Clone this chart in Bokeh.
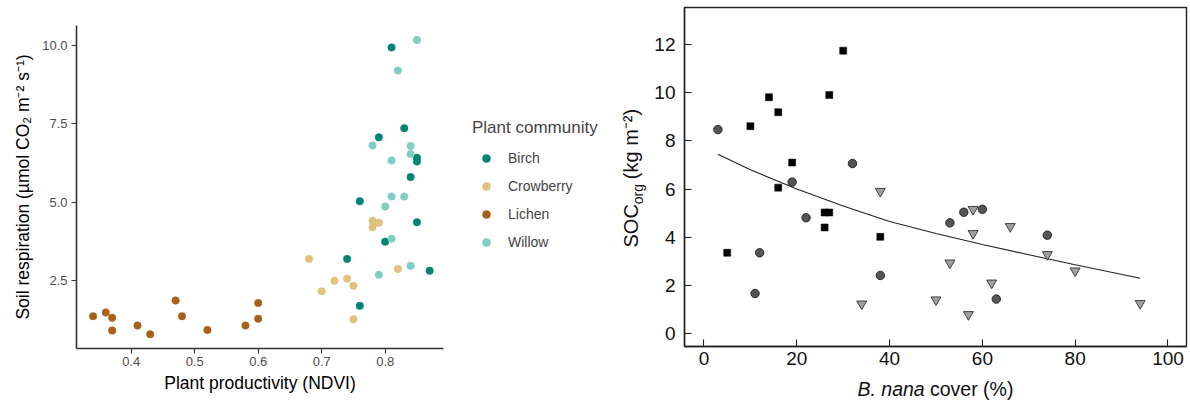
import math
from bokeh.plotting import figure
from bokeh.layouts import row, column
from bokeh.models import (Range1d, FixedTicker, NumeralTickFormatter, Legend, LegendItem)
from bokeh.core.properties import value
from bokeh.embed import file_html
from bokeh.resources import INLINE

# ---------------- data: left panel ----------------
communities = ["Birch", "Crowberry", "Lichen", "Willow"]
community_colors = ["#018571", "#DFC27D", "#A6611A", "#80CDC1"]

birch_ndvi = [0.81, 0.83, 0.79, 0.85, 0.85, 0.84, 0.76, 0.85, 0.80, 0.74, 0.87, 0.76]
birch_resp = [9.94, 7.36, 7.07, 6.42, 6.30, 5.80, 5.03, 4.36, 3.74, 3.19, 2.81, 1.69]
crow_ndvi = [0.78, 0.79, 0.78, 0.68, 0.82, 0.72, 0.74, 0.75, 0.70, 0.75]
crow_resp = [4.41, 4.34, 4.20, 3.19, 2.87, 2.49, 2.56, 2.33, 2.16, 1.26]
lichen_ndvi = [0.34, 0.36, 0.37, 0.37, 0.41, 0.43, 0.47, 0.48, 0.52, 0.58, 0.60, 0.60]
lichen_resp = [1.36, 1.48, 1.31, 0.90, 1.06, 0.78, 1.86, 1.36, 0.92, 1.06, 1.78, 1.28]
willow_ndvi = [0.85, 0.82, 0.78, 0.84, 0.84, 0.81, 0.81, 0.83, 0.80, 0.81, 0.84, 0.79]
willow_resp = [10.18, 9.20, 6.81, 6.79, 6.54, 6.33, 5.18, 5.18, 4.86, 3.83, 2.97, 2.68]

left_xticks = [0.4, 0.5, 0.6, 0.7, 0.8]
left_yticks = [2.5, 5.0, 7.5, 10.0]

# ---------------- data: right panel ----------------
circle_cover = [3, 19, 32, 22, 11, 12, 38, 53, 56, 60, 74, 63]
circle_soc = [8.47, 6.29, 7.06, 4.81, 1.67, 3.36, 2.42, 4.60, 5.04, 5.16, 4.09, 1.44]
square_cover = [10, 14, 16, 27, 30, 19, 16, 5, 26, 27, 26, 38]
square_soc = [8.61, 9.81, 9.19, 9.90, 11.74, 7.10, 6.06, 3.36, 5.03, 5.03, 4.41, 4.02]
tri_cover = [38, 34, 58, 58, 66, 53, 62, 50, 57, 74, 80, 94]
tri_soc = [5.91, 1.24, 5.16, 4.16, 4.45, 2.94, 2.11, 1.41, 0.80, 3.29, 2.61, 1.26]
fit_cover = [3, 10, 20, 30, 40, 50, 60, 70, 80, 94]
fit_soc = [7.44, 6.80, 6.00, 5.30, 4.66, 4.16, 3.70, 3.28, 2.86, 2.30]

right_xticks = [0, 20, 40, 60, 80, 100]
right_yticks = [0, 2, 4, 6, 8, 10, 12]

FONT = "Liberation Sans"
H = 400


def blank_fig(w, h, xr, yr, **kw):
    f = figure(width=w, height=h, output_backend="svg", toolbar_location=None,
               x_range=Range1d(*xr), y_range=Range1d(*yr),
               x_axis_type=None, y_axis_type=None, **kw)
    f.outline_line_color = None
    f.xgrid.visible = False
    f.ygrid.visible = False
    return f


# ================= left figure =================
p1 = figure(width=458, height=H, output_backend="svg", toolbar_location=None,
            x_range=Range1d(0.3139, 0.8918), y_range=Range1d(0.329, 10.64),
            min_border_left=76, min_border_right=15, min_border_top=25, min_border_bottom=52)
p1.outline_line_color = None
p1.xgrid.visible = False
p1.ygrid.visible = False

for col, xs, ys in [(community_colors[0], birch_ndvi, birch_resp),
                    (community_colors[1], crow_ndvi, crow_resp),
                    (community_colors[2], lichen_ndvi, lichen_resp),
                    (community_colors[3], willow_ndvi, willow_resp)]:
    p1.scatter(xs, ys, size=7.5, fill_color=col, line_color=col, line_width=0.5)

for ax in (p1.xaxis[0], p1.yaxis[0]):
    ax.axis_line_color = "#333333"
    ax.axis_line_width = 1.6
    ax.major_tick_line_color = "#333333"
    ax.major_tick_line_width = 1.1
    ax.major_tick_out = 5
    ax.major_tick_in = 0
    ax.minor_tick_line_color = None
    ax.major_label_text_font = FONT
    ax.major_label_text_font_size = "13px"
    ax.major_label_text_color = "#4d4d4d"
    ax.axis_label_text_font = FONT
    ax.axis_label_text_font_size = "17.5px"
    ax.axis_label_text_font_style = "normal"
    ax.axis_label_text_color = "black"

p1.xaxis.ticker = FixedTicker(ticks=left_xticks)
p1.yaxis.ticker = FixedTicker(ticks=left_yticks)
p1.yaxis.formatter = NumeralTickFormatter(format="0.0")
p1.xaxis.axis_label = "Plant productivity (NDVI)"
p1.yaxis.axis_label = "Soil respiration (µmol CO₂ m⁻² s⁻¹)"
p1.xaxis.major_label_standoff = 3
p1.yaxis.major_label_standoff = 4
p1.xaxis.axis_label_standoff = 4
p1.yaxis.axis_label_standoff = 6

# ================= legend panel =================
leg = blank_fig(142, H, (0, 1), (0, 1), min_border_left=14, min_border_top=118,
                min_border_right=0, min_border_bottom=0)
items = []
for name, col in zip(communities, community_colors):
    # a single key point kept outside the visible range: only the legend shows it
    r = leg.scatter(x=[-5], y=[-5], size=7.5, fill_color=col, line_color=col, line_width=0.5)
    items.append(LegendItem(label=name, renderers=[r]))
legend = Legend(items=items, location="top_left", title="Plant community",
                title_text_font=FONT, title_text_font_size="17px", title_text_font_style="normal",
                title_standoff=10,
                label_text_font=FONT, label_text_font_size="14px",
                glyph_width=28, glyph_height=20, label_height=20, label_standoff=8,
                spacing=8, padding=0, margin=0,
                border_line_color=None, background_fill_alpha=0)
leg.add_layout(legend, "center")

# ================= right y-label panel =================
ylab = blank_fig(50, H, (600, 650), (0, H), min_border=0)
ang = math.pi / 2
ylab_common = dict(angle=ang, text_align="center", text_baseline="middle",
                   text_font=value(FONT), text_color="#111111")
ylab.text(x=[630], y=[H - 225.3], text=["SOC"], text_font_size="20px", **ylab_common)
ylab.text(x=[637], y=[H - 193.6], text=["org"], text_font_size="14px", **ylab_common)
ylab.text(x=[630], y=[H - 143.5], text=["(kg m⁻²)"], text_font_size="20px", **ylab_common)

# ================= right figure =================
P2W, P2H = 538, 374
p2 = figure(width=P2W, height=P2H, output_backend="svg", toolbar_location=None,
            x_range=Range1d(-4.20, 103.99), y_range=Range1d(-0.527, 13.53),
            min_border_left=34, min_border_right=2, min_border_top=7, min_border_bottom=28)
p2.xgrid.visible = False
p2.ygrid.visible = False
p2.outline_line_color = "#222222"
p2.outline_line_width = 1.4

p2.line(fit_cover, fit_soc, line_color="#222222", line_width=1.1)
p2.scatter(circle_cover, circle_soc, marker="circle", size=8.5,
           fill_color="#555555", line_color="#111111", line_width=0.8)
p2.scatter(square_cover, square_soc, marker="square", size=7,
           fill_color="#000000", line_color="#000000", line_width=0.5)
p2.scatter(tri_cover, tri_soc, marker="inverted_triangle", size=10,
           fill_color="#a0a0a0", line_color="#333333", line_width=0.9)

for ax in (p2.xaxis[0], p2.yaxis[0]):
    ax.axis_line_color = "#222222"
    ax.axis_line_width = 1.4
    ax.major_tick_line_color = "#222222"
    ax.major_tick_line_width = 1.1
    ax.major_tick_in = 7
    ax.major_tick_out = 0
    ax.minor_tick_line_color = None
    ax.major_label_text_font = FONT
    ax.major_label_text_font_size = "19px"
    ax.major_label_text_color = "#111111"

p2.xaxis.ticker = FixedTicker(ticks=right_xticks)
p2.yaxis.ticker = FixedTicker(ticks=right_yticks)
p2.xaxis.major_label_standoff = 5
p2.yaxis.major_label_standoff = 9

# ================= right x-label panel =================
XLH = H - P2H
xlab = blank_fig(P2W, XLH, (684, 1186), (P2H, H), min_border_left=34, min_border_right=2,
                 min_border_top=0, min_border_bottom=0)
xlab_common = dict(text_align="center", text_baseline="middle",
                   text_font=value(FONT), text_font_size="19.5px", text_color="#111111")
xlab.text(x=[890.6], y=[H - (388 - P2H)], text=["B. nana"], text_font_style="italic",
          **xlab_common)
xlab.text(x=[971.2], y=[H - (388 - P2H)], text=["cover (%)"], **xlab_common)

layout = row(p1, column(leg), column(ylab), column(p2, xlab))
open("out.html", "w").write(file_html(layout, INLINE))
